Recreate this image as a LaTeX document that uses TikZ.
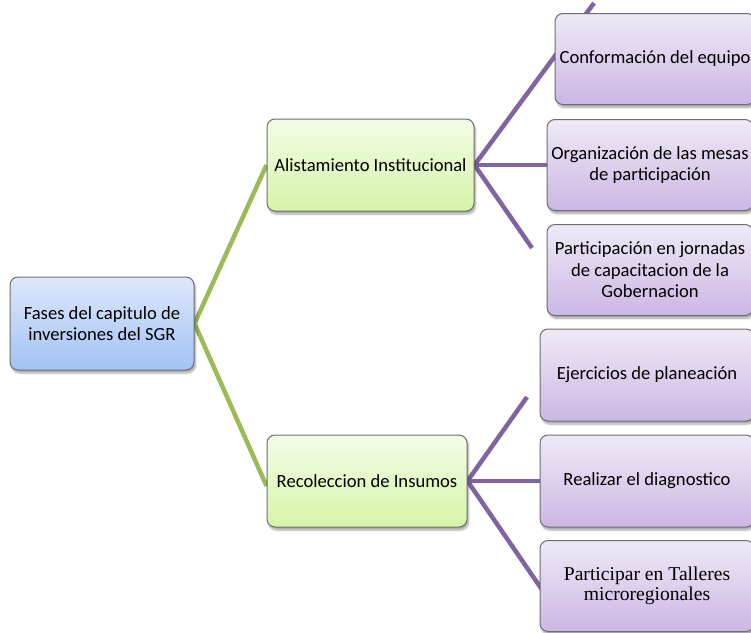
\documentclass[tikz,border=0pt]{standalone}
\usepackage{fontspec}
\setmainfont{Carlito}
\newfontfamily\serifcambria{Liberation Serif}
\usetikzlibrary{shadows.blur,backgrounds}
\definecolor{rootTop}{HTML}{DDE8FB}
\definecolor{rootBot}{HTML}{A3C2F4}
\definecolor{grnTop}{HTML}{F3FCE6}
\definecolor{grnBot}{HTML}{D6F4A9}
\definecolor{purTop}{HTML}{EFE9F6}
\definecolor{purBot}{HTML}{CBB7E4}
\definecolor{boxBorder}{HTML}{6E6E6E}
\definecolor{grnLine}{HTML}{9BBB59}
\definecolor{purLine}{HTML}{8064A2}
\tikzset{
  basebox/.style={draw=boxBorder, line width=1pt, rounded corners=8pt,
    align=center, inner sep=2pt, font=\fontsize{18.6}{21.5}\selectfont,
    blur shadow={shadow xshift=1.5pt, shadow yshift=-3pt, shadow blur steps=6, shadow opacity=35}},
  rootbox/.style={basebox, top color=rootTop, bottom color=rootBot},
  grnbox/.style={basebox, top color=grnTop, bottom color=grnBot},
  purbox/.style={basebox, top color=purTop, bottom color=purBot},
  grnlink/.style={draw=grnLine, line width=4.5pt},
  purlink/.style={draw=purLine, line width=4.5pt},
}
\begin{document}
\begin{tikzpicture}[x=1pt,y=-1pt]
\useasboundingbox (0,0) rectangle (751,632);
\clip (0,0) rectangle (751,632);
% boxes
\node[rootbox, minimum width=184pt, minimum height=93pt] (root) at (102,323.5) {Fases del capitulo de\\inversiones del SGR};
\node[grnbox, minimum width=207pt, minimum height=92pt] (alist) at (370.5,165) {Alistamiento Institucional};
\node[grnbox, minimum width=200pt, minimum height=92pt] (reco) at (367,481) {Recoleccion de Insumos};
\node[purbox, minimum width=200pt, minimum height=91pt] (conf) at (655,59) {Conformación del equipo};
\node[purbox, minimum width=206pt, minimum height=91pt] (orga) at (650,165) {Organización de las mesas\\de participación};
\node[purbox, minimum width=206pt, minimum height=91pt] (part) at (650,270) {Participación en jornadas\\de capacitacion de la\\Gobernacion};
\node[purbox, minimum width=214pt, minimum height=92pt] (ejer) at (647,375) {Ejercicios de planeación};
\node[purbox, minimum width=214pt, minimum height=92pt] (real) at (647,481) {Realizar el diagnostico};
\node[purbox, minimum width=214pt, minimum height=91pt, font=\serifcambria\fontsize{19.6}{20.5}\selectfont] (tall) at (647,586) {Participar en Talleres\\microregionales};
% free ends of connectors
\coordinate (stubTop) at (594,3);
\coordinate (alLow) at (532,248);
\coordinate (reUp) at (527,397);
\coordinate (reLowEnd) at (545,594);
% connectors (under boxes)
\begin{scope}[on background layer]
\draw[grnlink] (root.east) -- (alist.west);
\draw[grnlink] (root.east) -- ([yshift=-5pt]reco.west);
\draw[purlink] (alist.east) -- (stubTop);
\draw[purlink] (alist.east) -- (orga.west);
\draw[purlink] (alist.east) -- (alLow);
\draw[purlink] (reco.east) -- (reUp);
\draw[purlink] (reco.east) -- (real.west);
\draw[purlink] (reco.east) -- (reLowEnd);
\end{scope}
\end{tikzpicture}
\end{document}
